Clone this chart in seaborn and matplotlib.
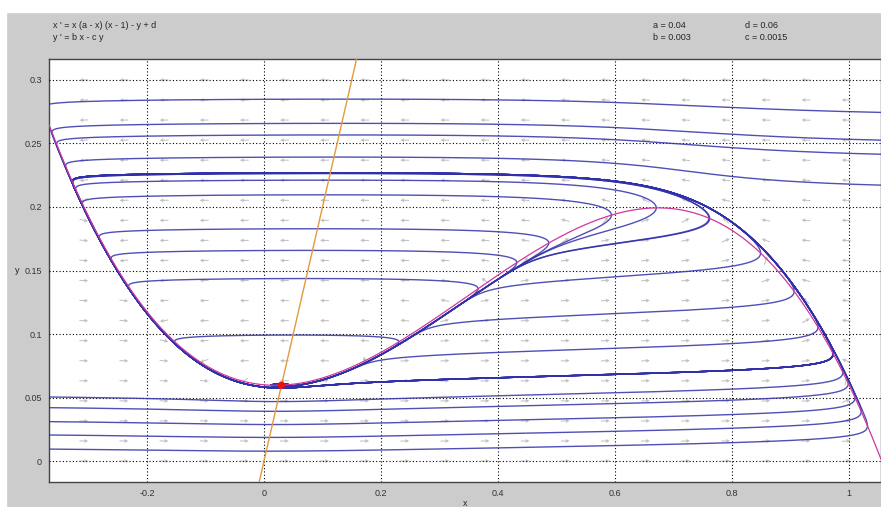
import numpy as np
import pandas as pd
import matplotlib
matplotlib.use("Agg")
import matplotlib.pyplot as plt
import seaborn as sns

# Model parameters
a = 0.04
b = 0.003
c = 0.0015
d = 0.06

# Display window
x_min, x_max = -0.3675, 1.0547
y_min, y_max = -0.0165, 0.3165

# Initial points of the plotted solution curves
upper_x0 = [0.4, 0.4, 0.4, 0.4, 0.4, 0.4]
upper_y0 = [0.2843, 0.2651, 0.2559, 0.2383, 0.2252, 0.2081]
mid_x0 = [0.2, 0.2, 0.2, 0.2]
mid_y0 = [0.1827, 0.1656, 0.1433, 0.0976]
lower_x0 = [0.6, 0.6, 0.6, 0.6, 0.6]
lower_y0 = [0.183, 0.171, 0.145, 0.116, 0.0887]
bottom_x0 = [-0.36, -0.36, -0.36, -0.36, -0.36]
bottom_y0 = [0.0504, 0.042, 0.031, 0.0205, 0.0094]

x_ticks = [-0.2, 0, 0.2, 0.4, 0.6, 0.8, 1]
y_ticks = [0, 0.05, 0.1, 0.15, 0.2, 0.25, 0.3]


def field(x, y):
    return x * (a - x) * (x - 1) - y + d, b * x - c * y


def solve(x0, y0, t_end, dt):
    # RK4, all curves at once, a curve is frozen after it leaves the window
    x = np.array(x0, dtype=float)
    y = np.array(y0, dtype=float)
    alive = np.ones_like(x, dtype=bool)
    xs, ys = [x.copy()], [y.copy()]
    for _ in range(int(t_end / abs(dt))):
        k1x, k1y = field(x, y)
        k2x, k2y = field(x + dt / 2 * k1x, y + dt / 2 * k1y)
        k3x, k3y = field(x + dt / 2 * k2x, y + dt / 2 * k2y)
        k4x, k4y = field(x + dt * k3x, y + dt * k3y)
        nx = x + dt / 6 * (k1x + 2 * k2x + 2 * k3x + k4x)
        ny = y + dt / 6 * (k1y + 2 * k2y + 2 * k3y + k4y)
        x = np.where(alive, nx, x)
        y = np.where(alive, ny, y)
        out = (x < x_min - 0.02) | (x > x_max + 0.02) | (y < y_min - 0.02) | (y > y_max + 0.02)
        xs.append(np.where(alive, x, np.nan))
        ys.append(np.where(alive, y, np.nan))
        alive &= ~out
    return np.array(xs), np.array(ys)


x0 = upper_x0 + mid_x0 + lower_x0 + bottom_x0
y0 = upper_y0 + mid_y0 + lower_y0 + bottom_y0
fx, fy = solve(x0, y0, 330, 0.1)
bx, by = solve(x0, y0, 400, -0.1)

rows = []
for i in range(len(x0)):
    px = np.concatenate([bx[::-1, i], fx[1:, i]])
    py = np.concatenate([by[::-1, i], fy[1:, i]])
    keep = ~np.isnan(px)
    rows.append(pd.DataFrame({"x": px[keep], "y": py[keep], "curve": i}))
traj = pd.concat(rows, ignore_index=True)

# nullclines
xn = np.linspace(x_min, x_max, 400)
xnull = pd.DataFrame({"x": xn, "y": xn * (a - xn) * (xn - 1) + d})
yn = np.linspace(-0.01, 0.17, 50)
ynull = pd.DataFrame({"x": yn, "y": b * yn / c})

# equilibrium
roots = np.roots([-1, 1 + a, -a - b / c, d])
xe = roots[np.isreal(roots)].real
eq = pd.DataFrame({"x": xe, "y": b * xe / c})

# direction field
gx, gy = np.meshgrid(np.linspace(-0.308, 0.995, 20), np.linspace(0, 0.3, 20))
u, v = field(gx, gy)
u = u / (x_max - x_min) * 832
v = v / (y_max - y_min) * 423
n = np.hypot(u, v)
u, v = u / n, v / n

sns.set_style("white")
plt.rcParams["font.family"] = ["Liberation Sans", "DejaVu Sans"]

fig = plt.figure(figsize=(8.81, 5.07), dpi=100, facecolor="#cccccc")
fig.patches.append(plt.Rectangle((0, 495 / 507), 1, 12 / 507, transform=fig.transFigure, color="white", zorder=0))
fig.patches.append(plt.Rectangle((0, 0), 6 / 881, 1, transform=fig.transFigure, color="white", zorder=0))
ax = fig.add_axes([49 / 881, 25 / 507, 832 / 881, 423 / 507])
ax.set_facecolor("white")

ax.quiver(gx, gy, u, v, color="#c0c0c0", pivot="middle", scale=95, width=0.0012,
          headwidth=4, headlength=4, headaxislength=3.5, zorder=1)

sns.lineplot(data=traj, x="x", y="y", units="curve", estimator=None, sort=False,
             color="#3030aa", linewidth=1.0, alpha=0.85, ax=ax, zorder=3)
sns.lineplot(data=xnull, x="x", y="y", sort=False, color="#d0379f", linewidth=0.9, ax=ax, zorder=4)
sns.lineplot(data=ynull, x="x", y="y", sort=False, color="#e39a3c", linewidth=1.0, ax=ax, zorder=4)
sns.scatterplot(data=eq, x="x", y="y", color="#ee1111", s=28, edgecolor="none", ax=ax, zorder=5)

ax.set_xlim(x_min, x_max)
ax.set_ylim(y_min, y_max)
ax.set_xticks(x_ticks)
ax.set_xticklabels(["-0.2", "0", "0.2", "0.4", "0.6", "0.8", "1"])
ax.set_yticks(y_ticks)
ax.set_yticklabels(["0", "0.05", "0.1", "0.15", "0.2", "0.25", "0.3"])
ax.grid(True, color="black", linestyle=(0, (1, 2)), linewidth=0.8, zorder=2)
ax.set_axisbelow(False)
ax.tick_params(labelsize=6.5, length=4, direction="in", colors="#333333", pad=5)
ax.set_xlabel("x", fontsize=6.5, labelpad=1)
ax.set_ylabel("y", fontsize=6.5, labelpad=5, rotation=0, va="center")
for s in ax.spines.values():
    s.set_color("#444444")
    s.set_linewidth(1.0)

fig.text(53 / 881, 1 - 26 / 507, "x ' = x (a - x) (x - 1) - y + d", fontsize=6.5, va="center")
fig.text(53 / 881, 1 - 38 / 507, "y ' = b x - c y", fontsize=6.5, va="center")
fig.text(653 / 881, 1 - 26 / 507, "a = 0.04", fontsize=6.5, va="center")
fig.text(653 / 881, 1 - 38 / 507, "b = 0.003", fontsize=6.5, va="center")
fig.text(745 / 881, 1 - 26 / 507, "d = 0.06", fontsize=6.5, va="center")
fig.text(745 / 881, 1 - 38 / 507, "c = 0.0015", fontsize=6.5, va="center")

fig.savefig("out.png", dpi=100, facecolor=fig.get_facecolor())
